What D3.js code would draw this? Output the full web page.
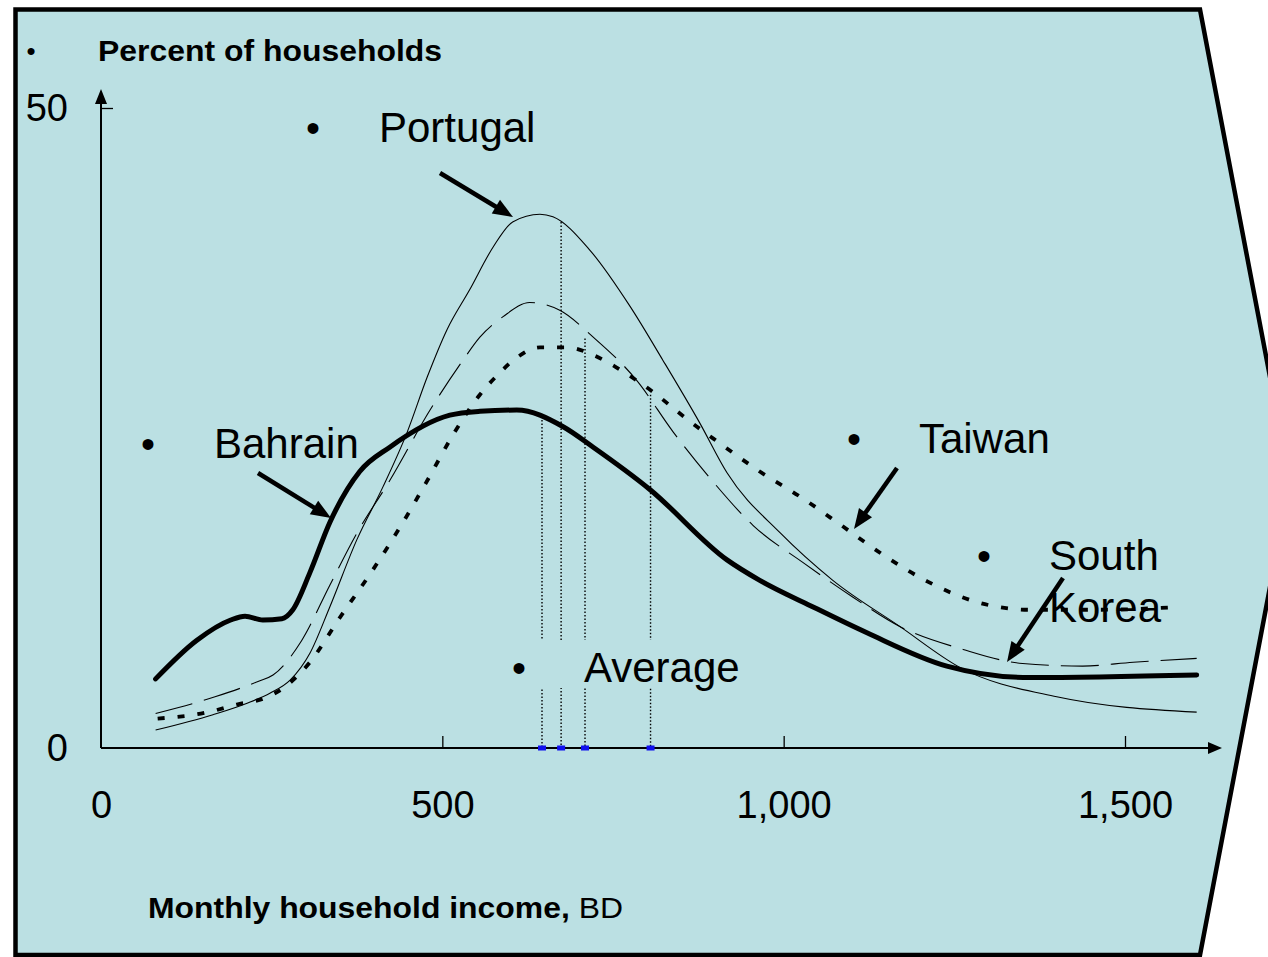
<!DOCTYPE html>
<html>
<head>
<meta charset="utf-8">
<script src="https://cdn.jsdelivr.net/npm/d3@7"></script>
<style>
  body { margin: 0; background: #fff; }
  text { font-family: "Liberation Sans", Arial, sans-serif; fill: #000; }
</style>
</head>
<body>
<script>
// values: [income BD, percent of households]
var bahrain = [[80,5.4],[140,8.4],[190,10.0],[211,10.3],[237,10.0],[265,10.1],[281,10.8],[306,13.7],
  [335,17.6],[379,21.6],[423,23.5],[511,26.0],[555,26.3],[609,26.4],[677,25.1],[721,23.5],[804,20.2],
  [917,14.7],[965,13.1],[1040,11.1],[1122,9.0],[1239,6.4],[1361,5.5],[1605,5.7]];
var portugal = [[80,1.4],[164,2.6],[214,3.5],[248,4.3],[277,5.3],[306,7.4],[335,11.0],[375,16.3],
  [413,20.4],[448,24.6],[478,29.0],[507,32.7],[540,35.8],[574,39.1],[603,41.1],[643,41.7],[662,41.5],
  [716,38.9],[775,34.5],[823,30.3],[877,25.4],[917,21.5],[995,16.8],[1072,13.1],[1170,9.5],[1258,6.3],
  [1400,4.0],[1605,2.8]];
var southKorea = [[80,2.7],[167,4.0],[230,5.2],[252,5.7],[294,8.4],[335,12.7],[375,16.8],[423,20.9],
  [482,26.4],[529,30.2],[555,32.1],[589,33.7],[628,34.8],[672,34.2],[721,32.1],[785,28.7],[838,24.7],
  [895,20.9],[955,17.4],[1028,14.5],[1101,11.8],[1170,9.5],[1263,7.7],[1350,6.6],[1438,6.4],[1512,6.7],
  [1605,7.0]];
var taiwan = [[83,2.3],[157,2.8],[199,3.4],[240,3.9],[270,4.8],[306,6.7],[350,10.2],[398,13.9],
  [442,17.6],[478,20.9],[516,24.5],[555,27.6],[582,29.2],[609,30.5],[643,31.3],[683,31.3],[721,30.7],
  [753,29.8],[785,28.7],[814,27.6],[844,26.3],[873,25.1],[904,23.9],[965,21.6],[1028,19.5],[1087,17.3],
  [1151,14.9],[1211,13.0],[1283,11.4],[1361,10.8],[1463,10.8],[1573,11.0]];

var averageIncome = [646, 674, 709, 805];
var averageTop = [25.9, 41.1, 32.0, 27.6];

var xTicks = [0, 500, 1000, 1500];
var yTicks = [0, 50];

var width = 1268, height = 957;
var bg = "#bbe0e3";

var svg = d3.select("body").append("svg")
  .attr("width", width)
  .attr("height", height);

// slide arrow shape
svg.append("path")
  .attr("d", "M15.5,9.5 L1200,9.5 L1290,482 L1200,955 L15.5,955 Z")
  .attr("fill", bg)
  .attr("stroke", "#000")
  .attr("stroke-width", 4.5)
  .attr("stroke-linejoin", "miter");

var x = d3.scaleLinear().domain([0, 1500]).range([101, 1125]);
var y = d3.scaleLinear().domain([0, 50]).range([748, 108]);

var line = d3.line()
  .x(function(d) { return x(d[0]); })
  .y(function(d) { return y(d[1]); })
  .curve(d3.curveMonotoneX);

// axes
var xAxis = svg.append("g")
  .attr("transform", "translate(0," + y(0) + ")")
  .call(d3.axisBottom(x).tickValues(xTicks).tickFormat(d3.format(","))
    .tickSizeInner(-12).tickSizeOuter(0).tickPadding(43));
var yAxis = svg.append("g")
  .attr("transform", "translate(" + x(0) + ",0)")
  .call(d3.axisLeft(y).tickValues(yTicks).tickSizeInner(-12).tickSizeOuter(0).tickPadding(33));

[xAxis, yAxis].forEach(function(a) {
  a.select(".domain").remove();
  a.selectAll("line").attr("stroke", "#000").attr("stroke-width", 1.3);
  a.selectAll("text").attr("font-size", 38).attr("font-family", "Liberation Sans, Arial, sans-serif");
});
xAxis.selectAll(".tick").filter(function(d) { return d === 0; }).select("line").remove();
yAxis.selectAll(".tick").filter(function(d) { return d === 0; }).select("line").remove();

// axis lines with arrow heads
svg.append("line").attr("x1", x(0)).attr("y1", y(0)).attr("x2", 1210).attr("y2", y(0))
  .attr("stroke", "#000").attr("stroke-width", 2);
svg.append("path").attr("d", "M1208,742 L1222,748 L1208,754 Z").attr("fill", "#000");
svg.append("line").attr("x1", x(0)).attr("y1", y(0)).attr("x2", x(0)).attr("y2", 102)
  .attr("stroke", "#000").attr("stroke-width", 2);
svg.append("path").attr("d", "M95,104 L101,89 L107,104 Z").attr("fill", "#000");

// average markers
svg.selectAll(".avg")
  .data(averageIncome)
  .enter().append("line")
  .attr("class", "avg")
  .attr("x1", function(d) { return x(d); })
  .attr("x2", function(d) { return x(d); })
  .attr("y1", function(d, i) { return y(averageTop[i]); })
  .attr("y2", y(0))
  .attr("stroke", "#000")
  .attr("stroke-width", 1.4)
  .attr("stroke-dasharray", "1.5,2");

svg.selectAll(".avgmark")
  .data(averageIncome)
  .enter().append("rect")
  .attr("x", function(d) { return x(d) - 4; })
  .attr("y", y(0) - 2.5)
  .attr("width", 8)
  .attr("height", 5)
  .attr("fill", "#1010ee");

// curves
svg.append("path").datum(portugal).attr("d", line)
  .attr("fill", "none").attr("stroke", "#000").attr("stroke-width", 1.1);
svg.append("path").datum(southKorea).attr("d", line)
  .attr("fill", "none").attr("stroke", "#000").attr("stroke-width", 1.1)
  .attr("stroke-dasharray", "38,12");
svg.append("path").datum(taiwan).attr("d", line)
  .attr("fill", "none").attr("stroke", "#000").attr("stroke-width", 3.8)
  .attr("stroke-dasharray", "7,13");
svg.append("path").datum(bahrain).attr("d", line)
  .attr("fill", "none").attr("stroke", "#000").attr("stroke-width", 5)
  .attr("stroke-linecap", "round").attr("stroke-linejoin", "round");

// "Average" text box hides the dotted lines behind it
svg.append("rect").attr("x", 500).attr("y", 640).attr("width", 250).attr("height", 48).attr("fill", bg);

// labels
var labels = [
  { bx: 313, tx: 379, y: 142, t: "Portugal" },
  { bx: 148, tx: 214, y: 458, t: "Bahrain" },
  { bx: 854, tx: 919, y: 453, t: "Taiwan" },
  { bx: 984, tx: 1049, y: 570, t: "South" },
  { bx: 519, tx: 584, y: 682, t: "Average" }
];
labels.forEach(function(l) {
  svg.append("text").attr("x", l.bx).attr("y", l.y).attr("text-anchor", "middle")
    .attr("font-size", 40).text("\u2022");
  svg.append("text").attr("x", l.tx).attr("y", l.y).attr("font-size", 42).text(l.t);
});
svg.append("text").attr("x", 1049).attr("y", 622).attr("font-size", 42).text("Korea");

// annotation arrows
var arrows = [[440,173,513,217],[258,473,331,518],[897,468,854,529],[1063,578,1007,662]];
arrows.forEach(function(a) {
  var dx = a[2] - a[0], dy = a[3] - a[1];
  var len = Math.sqrt(dx*dx + dy*dy), ux = dx/len, uy = dy/len;
  var hl = 20, hw = 8;
  var bx = a[2] - ux*hl, by = a[3] - uy*hl;
  svg.append("line").attr("x1", a[0]).attr("y1", a[1]).attr("x2", bx + ux*2).attr("y2", by + uy*2)
    .attr("stroke", "#000").attr("stroke-width", 4.5);
  svg.append("path")
    .attr("d", "M" + a[2] + "," + a[3] + " L" + (bx - uy*hw) + "," + (by + ux*hw) +
      " L" + (bx + uy*hw) + "," + (by - ux*hw) + " Z")
    .attr("fill", "#000");
});

// titles
svg.append("text").attr("x", 31).attr("y", 60).attr("text-anchor", "middle").attr("font-size", 26).text("\u2022");
svg.append("text").attr("x", 98).attr("y", 61).attr("font-size", 29).attr("font-weight", "bold")
  .attr("textLength", 344).attr("lengthAdjust", "spacingAndGlyphs")
  .text("Percent of households");

var xl = svg.append("text").attr("x", 148).attr("y", 918).attr("font-size", 30)
  .attr("textLength", 475).attr("lengthAdjust", "spacingAndGlyphs");
xl.append("tspan").attr("font-weight", "bold").text("Monthly household income,");
xl.append("tspan").text(" BD");
</script>
</body>
</html>
